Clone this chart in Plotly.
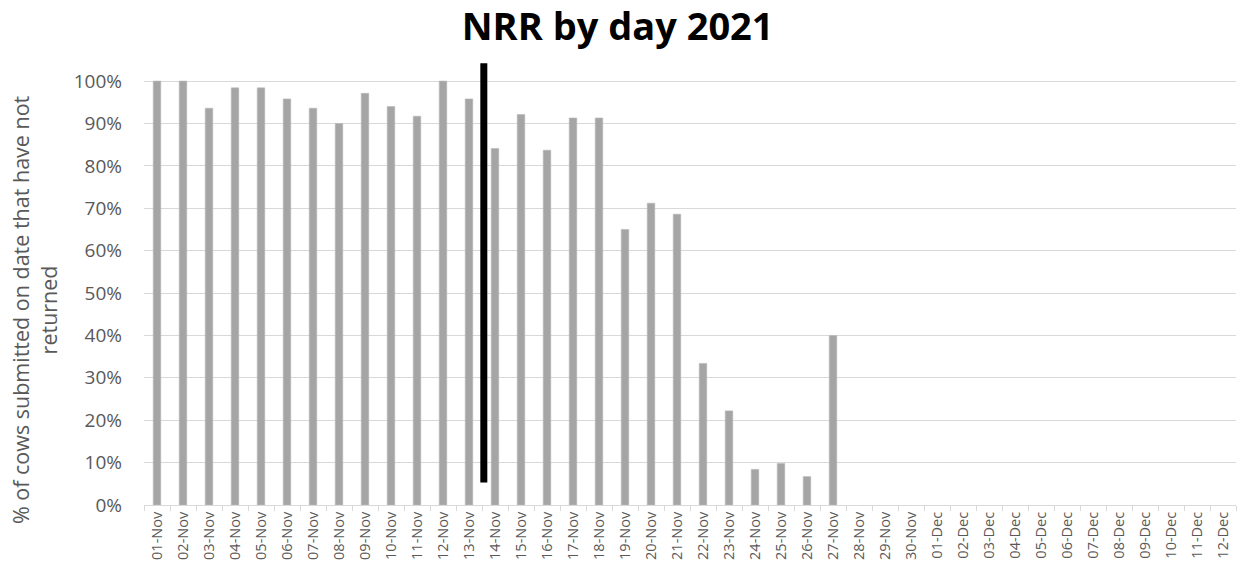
import plotly.graph_objects as go

days = ["01-Nov", "02-Nov", "03-Nov", "04-Nov", "05-Nov", "06-Nov", "07-Nov", "08-Nov",
        "09-Nov", "10-Nov", "11-Nov", "12-Nov", "13-Nov", "14-Nov", "15-Nov", "16-Nov",
        "17-Nov", "18-Nov", "19-Nov", "20-Nov", "21-Nov", "22-Nov", "23-Nov", "24-Nov",
        "25-Nov", "26-Nov", "27-Nov", "28-Nov", "29-Nov", "30-Nov", "01-Dec", "02-Dec",
        "03-Dec", "04-Dec", "05-Dec", "06-Dec", "07-Dec", "08-Dec", "09-Dec", "10-Dec",
        "11-Dec", "12-Dec"]

nrr_pct = [100.0, 100.0, 93.6, 98.4, 98.4, 95.8, 93.6, 90.0, 97.1, 94.0, 91.7, 100.0,
           95.8, 84.1, 92.1, 83.7, 91.3, 91.3, 65.0, 71.2, 68.6, 33.4, 22.2, 8.4,
           9.8, 6.7, 40.0, None, None, None, None, None, None, None, None, None,
           None, None, None, None, None, None]

# vertical divider marker (category position, y extent in %)
divider_x = [12.57, 12.57]
divider_y = [5.3, 104.2]

y_ticks = list(range(0, 101, 10))
y_tick_text = [f"{v}%" for v in y_ticks]

grey_text = "#595959"
font_family = "Open Sans, Liberation Sans, sans-serif"

fig = go.Figure()
fig.add_trace(go.Bar(
    x=days, y=nrr_pct, width=0.29,
    marker=dict(color="#a5a5a5", line=dict(color="#b8b8b8", width=0.6)),
    hoverinfo="x+y",
))
fig.add_trace(go.Scatter(
    x=divider_x, y=divider_y, xaxis="x2", yaxis="y",
    mode="lines", line=dict(color="black", width=7), hoverinfo="skip",
))

fig.update_layout(
    width=1239, height=572,
    margin=dict(l=144, r=3, t=62, b=67),
    plot_bgcolor="white", paper_bgcolor="white",
    showlegend=False,
    title=dict(text="<b>NRR by day 2021</b>", x=0.4985, xanchor="center",
               yref="container", y=0.953, yanchor="middle",
               font=dict(family=font_family, size=38, color="black")),
    xaxis=dict(
        type="category", categoryorder="array", categoryarray=days,
        range=[-0.5, 41.5],
        tickangle=-90, tickfont=dict(family=font_family, size=14.5, color=grey_text),
        showline=True, linecolor="#d9d9d9", linewidth=1,
        ticks="outside", tickson="boundaries", ticklen=5, tickcolor="#d9d9d9",
        showgrid=False, automargin=False,
    ),
    xaxis2=dict(overlaying="x", range=[-0.5, 41.5], visible=False),
    yaxis=dict(
        range=[0, 104.5], tickvals=y_ticks, ticktext=y_tick_text,
        tickfont=dict(family=font_family, size=19, color=grey_text),
        showgrid=True, gridcolor="#d9d9d9", gridwidth=1,
        zeroline=False, showline=False, ticks="", ticklabelstandoff=21,
        automargin=False,
    ),
    annotations=[dict(
        text="% of cows submitted on date that have not<br>returned",
        xref="paper", yref="paper", x=-0.1007, y=0.44, xanchor="center", yanchor="middle",
        textangle=-90, showarrow=False,
        font=dict(family=font_family, size=21.5, color=grey_text),
    )],
)

fig.write_html("out.html", config={"displayModeBar": False},
               post_script="document.body.style.margin='0';document.body.style.overflow='hidden';")
